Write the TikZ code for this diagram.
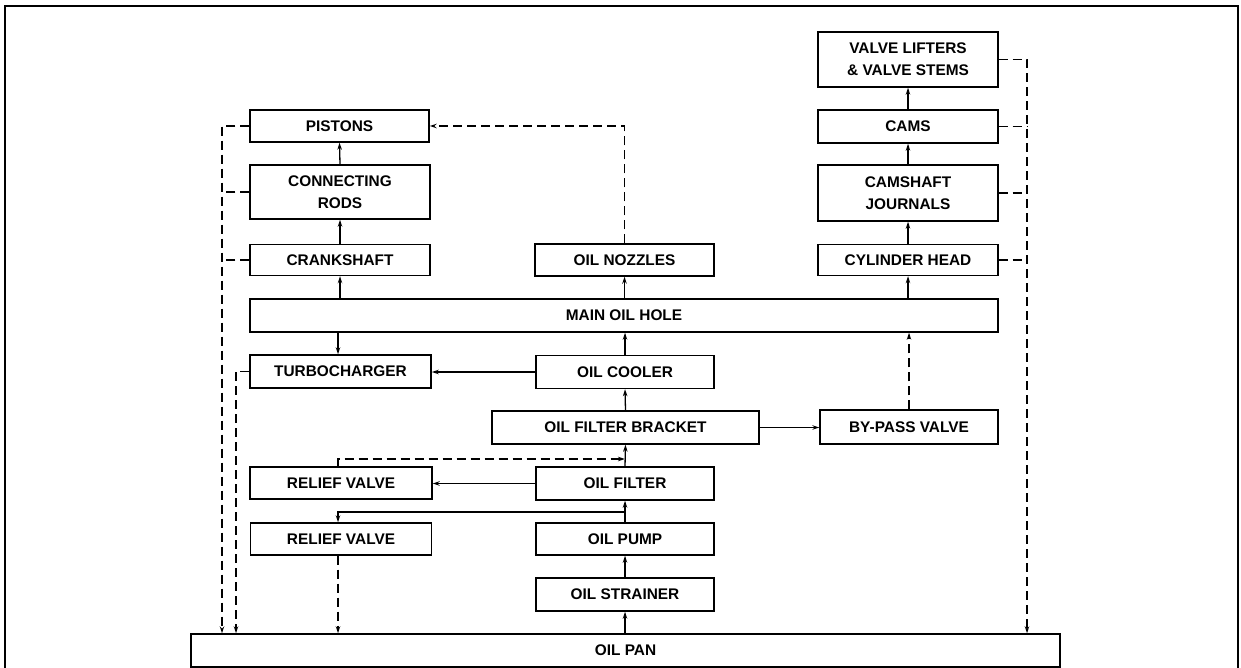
\documentclass[tikz,border=0pt]{standalone}
\usepackage{fontspec}
\newfontfamily\labfont{Liberation Sans}
\usetikzlibrary{arrows.meta}
\begin{document}
\begin{tikzpicture}[x=1pt,y=-1pt,
 box/.style={draw, line width=1.4pt, font=\labfont\bfseries\fontsize{15.4}{22}\selectfont, align=center, inner sep=0pt},
 sz/.style 2 args={minimum width=#1pt, minimum height=#2pt},
 flow/.style={line width=1.3pt, -{Stealth[length=7pt,width=4.5pt]}},
 dflow/.style={flow, dash pattern=on 9pt off 5pt},
 dline/.style={line width=1.3pt, dash pattern=on 9pt off 5pt}]
\useasboundingbox (0,0) rectangle (1241,668);
\draw[line width=2pt] (5,668) -- (5,6) -- (1238,6) -- (1238,668);

% left column
\node[box, sz={179}{32}] (pistons) at (339.5,126) {PISTONS};
\node[box, sz={180}{54}] (rods) at (340,192) {CONNECTING\\RODS};
\node[box, sz={180}{31}] (crank) at (340,260) {CRANKSHAFT};
% center
\node[box, sz={179}{32}] (nozzles) at (624.5,260) {OIL NOZZLES};
% right column
\node[box, sz={180}{55}] (lifters) at (908,59.5) {VALVE LIFTERS\\\&\ VALVE STEMS};
\node[box, sz={180}{33}] (cams) at (908,126.5) {CAMS};
\node[box, sz={180}{56}] (journals) at (908,193) {CAMSHAFT\\JOURNALS};
\node[box, sz={180}{31}] (cylhead) at (908,260) {CYLINDER HEAD};
% main
\node[box, sz={748}{33}] (main) at (624,315.5) {MAIN OIL HOLE};
\node[box, sz={181}{33}] (turbo) at (340.5,371.5) {TURBOCHARGER};
\node[box, sz={178}{33}] (cooler) at (625,372) {OIL COOLER};
\node[box, sz={267}{33}] (bracket) at (625.5,427.5) {OIL FILTER BRACKET};
\node[box, sz={178}{34}] (bypass) at (909,427) {BY-PASS VALVE};
\node[box, sz={182}{32}] (relief1) at (341,483) {RELIEF VALVE};
\node[box, sz={178}{33}] (filter) at (625,483.5) {OIL FILTER};
\node[box, sz={181}{32}] (relief2) at (341,539) {RELIEF VALVE};
\node[box, sz={178}{32}] (pump) at (625,539) {OIL PUMP};
\node[box, sz={178}{33}] (strainer) at (625,594.5) {OIL STRAINER};
\node[box, sz={869}{33}] (pan) at (625.5,650.5) {OIL PAN};

\coordinate (lb) at (222,0);
\coordinate (tb) at (236,0);
\coordinate (rb) at (1027,0);
\coordinate (rv) at (338,0);
\coordinate (j1) at (625,459);
\coordinate (j2) at (625,512);

% solid flows
\draw[flow] (strainer.south |- pan.north) -- (strainer.south);
\draw[flow] (strainer.north) -- (pump.south);
\draw[flow] (pump.north) -- (filter.south);
\draw[flow] (filter.north) -- (bracket.south);
\draw[flow] (bracket.north) -- (cooler.south);
\draw[flow] (cooler.north) -- (cooler.north |- main.south);
\draw[flow] (nozzles.south |- main.north) -- (nozzles.south);
\draw[flow] (crank.south |- main.north) -- (crank.south);
\draw[flow] (crank.north) -- (rods.south);
\draw[flow] (rods.north) -- (pistons.south);
\draw[flow] (cylhead.south |- main.north) -- (cylhead.south);
\draw[flow] (cylhead.north) -- (journals.south);
\draw[flow] (journals.north) -- (cams.south);
\draw[flow] (cams.north) -- (lifters.south);
\draw[flow] (rv |- main.south) -- (rv |- turbo.north);
\draw[flow] (cooler.west) -- (cooler.west -| turbo.east);
\draw[flow] (filter.west) -- (filter.west -| relief1.east);
\draw[flow] (bracket.east) -- (bracket.east -| bypass.west);
\draw[flow] (j2) -- (rv |- j2) -- (rv |- relief2.north);

% dashed returns
\draw[dflow] (pistons.west) -- (pistons.west -| lb) -- (lb |- pan.north);
\draw[dline] (rods.west) -- (rods.west -| lb);
\draw[dline] (crank.west) -- (crank.west -| lb);
\draw[dflow] (turbo.west) -- (turbo.west -| tb) -- (tb |- pan.north);
\draw[dflow] (lifters.east) -- (lifters.east -| rb) -- (rb |- pan.north);
\draw[dline] (cams.east) -- (cams.east -| rb);
\draw[dline] (journals.east) -- (journals.east -| rb);
\draw[dline] (cylhead.east) -- (cylhead.east -| rb);
\draw[dflow] (nozzles.north) -- (nozzles.north |- pistons.east) -- (pistons.east);
\draw[dflow] (bypass.north) -- (bypass.north |- main.south);
\draw[dflow] (rv |- relief1.north) -- (rv |- j1) -- (j1);
\draw[dflow] (rv |- relief2.south) -- (rv |- pan.north);
\end{tikzpicture}
\end{document}
